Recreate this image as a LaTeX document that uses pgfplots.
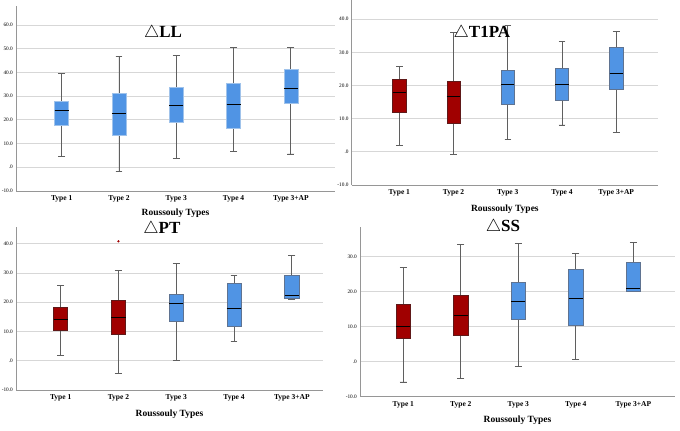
\documentclass[border=0pt]{standalone}
\usepackage{pgfplots}
\pgfplotsset{compat=1.18}
\usepgfplotslibrary{statistics}
\usepackage{fontspec}
\setmainfont{Liberation Serif}
\definecolor{redF}{RGB}{160,0,0}
\definecolor{redD}{RGB}{95,25,25}
\definecolor{blueF}{RGB}{80,148,228}
\definecolor{blueD}{RGB}{95,115,145}
\definecolor{blueL}{RGB}{160,195,235}
\definecolor{gridc}{RGB}{215,215,215}
\definecolor{axc}{RGB}{150,150,150}
\definecolor{whc}{RGB}{95,95,95}
\newcommand{\bx}[7]{\addplot+[boxplot/draw direction=y, boxplot prepared={draw position=#1, lower whisker=#2, lower quartile=#3, median=#4, upper quartile=#5, upper whisker=#6, box extend=0.245, whisker extend=0.12}, #7] coordinates {};}
\pgfplotsset{
 rs/.style={scale only axis, axis lines=left, axis line style={axc, -, line width=0.8pt},
  ymajorgrids, grid style={gridc, line width=0.8pt}, major tick length=0pt, ymin=-10,
  xtick={1,2,3,4,5}, xticklabels={Type 1, Type 2, Type 3, Type 4, Type 3+AP},
  xticklabel style={font=\fontsize{7.5}{8}\selectfont\bfseries, anchor=center, yshift=-8pt},
  yticklabel style={font=\fontsize{5.3}{6}\selectfont, anchor=east, inner sep=0pt, xshift=-3pt},
  xlabel={Roussouly Types},
  xlabel style={font=\fontsize{9.5}{10}\selectfont\bfseries, at={(axis description cs:0.5,0)}, anchor=center, yshift=-24pt},
  title style={font=\fontsize{17}{18}\selectfont\bfseries, anchor=center, yshift=0pt},
  boxplot/every median/.style={black, line width=1.1pt},
  boxplot/every whisker/.style={whc, line width=0.8pt},
  },
 bl/.style={solid, mark=none, fill=blueF, draw=blueD, line width=0.6pt},
 bll/.style={solid, mark=none, fill=blueF, draw=blueL, line width=0.6pt},
 rd/.style={solid, mark=none, fill=redF, draw=redD, line width=0.6pt},
}
\begin{document}
\begin{tikzpicture}
\path[use as bounding box] (0,0) rectangle (680pt,431pt);
% Panel 1: Delta LL
\begin{axis}[rs, at={(16pt,425pt)}, anchor=north west, width=319pt, height=185pt,
 xmin=0.203, xmax=5.77, ymax=68, ytick={-10,0,10,20,30,40,50,60},
 yticklabels={-10.0,.0,10.0,20.0,30.0,40.0,50.0,60.0},
 xlabel style={yshift=2pt},
 title={$\triangle$LL}, title style={at={(0.461,0.822)}}]
\bx{1}{4.4}{17.5}{24.1}{28.0}{39.7}{bll}
\bx{2}{-1.8}{13.4}{22.8}{31.1}{46.8}{bll}
\bx{3}{3.8}{19.0}{26.2}{33.9}{47.0}{bll}
\bx{4}{6.6}{16.3}{26.6}{35.4}{50.7}{bll}
\bx{5}{5.6}{26.8}{33.4}{41.5}{50.7}{bll}
\end{axis}
% Panel 2: Delta T1PA
\begin{axis}[rs, at={(351.7pt,431pt)}, anchor=north west, width=306.3pt, height=185pt,
 xmin=0.122, xmax=5.77, ymax=45.8, ytick={-10,0,10,20,30,40},
 yticklabels={-10.0,.0,10.0,20.0,30.0,40.0},
 title={$\triangle$T1PA}, title style={at={(0.425,0.789)}}]
\bx{1}{2.0}{11.9}{18.0}{22.0}{25.8}{rd}
\bx{2}{-0.9}{8.6}{16.6}{21.2}{36.1}{rd}
\bx{3}{3.8}{14.3}{20.4}{24.6}{38.0}{bl}
\bx{4}{8.1}{15.6}{20.4}{25.2}{33.3}{bl}
\bx{5}{5.9}{18.9}{23.5}{31.5}{36.3}{bl}
\end{axis}
% Panel 3: Delta PT
\begin{axis}[rs, at={(16pt,204.3pt)}, anchor=north west, width=307pt, height=163.3pt,
 xmin=0.227, xmax=5.54, ymax=45.8, ytick={-10,0,10,20,30,40},
 yticklabels={-10.0,.0,10.0,20.0,30.0,40.0},
 title={$\triangle$PT}, title style={at={(0.475,0.949)}}]
\bx{1}{1.9}{10.3}{14.2}{18.4}{25.7}{rd}
\bx{2}{-4.2}{8.9}{14.7}{20.6}{30.8}{rd}
\bx{3}{0.1}{13.6}{19.5}{22.8}{33.1}{bl}
\bx{4}{6.5}{11.7}{18.0}{26.4}{29.1}{bl}
\bx{5}{21.0}{21.2}{22.4}{29.3}{36.1}{bl}
\addplot[only marks, mark=*, mark size=0.9pt, color=redF] coordinates {(2,40.8)};
\end{axis}
% Panel 4: Delta SS
\begin{axis}[rs, at={(360pt,204.3pt)}, anchor=north west, width=315pt, height=170pt,
 xmin=0.247, xmax=5.725, ymax=38.5, ytick={-10,0,10,20,30},
 yticklabels={-10.0,.0,10.0,20.0,30.0},
 title={$\triangle$SS}, title style={at={(0.454,0.963)}}]
\bx{1}{-5.8}{6.8}{10.1}{16.5}{27.0}{rd}
\bx{2}{-4.8}{7.6}{13.1}{18.8}{33.4}{rd}
\bx{3}{-1.3}{12.0}{17.1}{22.7}{33.8}{bl}
\bx{4}{0.7}{10.4}{18.1}{26.3}{30.8}{bl}
\bx{5}{20.0}{20.0}{20.8}{28.4}{34.1}{bl}
\end{axis}
\end{tikzpicture}
\end{document}
